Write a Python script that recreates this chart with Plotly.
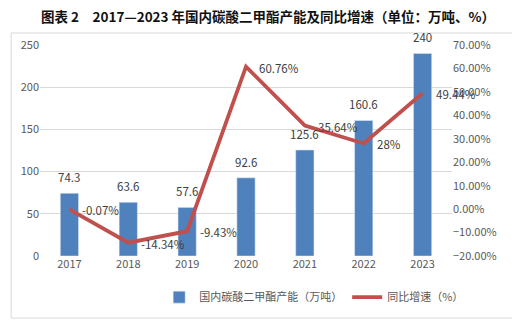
import plotly.graph_objects as go

# data
years = ['2017', '2018', '2019', '2020', '2021', '2022', '2023']
capacity = [74.3, 63.6, 57.6, 92.6, 125.6, 160.6, 240]           # 万吨
growth = [-0.07, -14.34, -9.43, 60.76, 35.64, 28, 49.44]          # %

font_family = '"Noto Sans CJK SC", "Microsoft YaHei", sans-serif'
tick_color = '#595959'
label_color = '#404040'

fig = go.Figure()

# capacity bars on the left axis
fig.add_trace(go.Bar(
    x=years,
    y=capacity,
    name='国内碳酸二甲酯产能（万吨）',
    marker=dict(color='#4F81BD'),
    width=0.31,
))

# growth line on the right axis
fig.add_trace(go.Scatter(
    x=years,
    y=growth,
    name='同比增速（%）',
    mode='lines',
    line=dict(color='#C0504D', width=3.8),
    yaxis='y2',
    cliponaxis=False,
))

# data labels (category axis: position = category index)
annotations = []
for i, v in enumerate(capacity):
    annotations.append(dict(
        x=i, y=v, xref='x', yref='y', text=f'{v:g}',
        showarrow=False, xanchor='center', yanchor='bottom', yshift=6,
        font=dict(size=11.5, color=label_color),
    ))
for i, v in enumerate(growth):
    annotations.append(dict(
        x=i, y=v, xref='x', yref='y2', text=f'{v:g}%',
        showarrow=False, xanchor='left', yanchor='middle', xshift=11, yshift=-1,
        font=dict(size=11.5, color=label_color),
    ))

# the page adds an 8px body margin, so the figure is 8px smaller
fig.update_layout(
    width=512,
    height=316,
    margin=dict(l=32, r=68, t=37, b=68),
    paper_bgcolor='white',
    plot_bgcolor='white',
    font=dict(family=font_family, size=11, color=tick_color),
    title=dict(
        text='<b>图表 2　2017—2023 年国内碳酸二甲酯产能及同比增速（单位：万吨、%）</b>',
        x=0.508, xanchor='center', y=0.971, yanchor='middle',
        xref='container', yref='container',
        font=dict(size=13.5, color='#111111', family=font_family),
    ),
    bargap=0.69,
    showlegend=True,
    legend=dict(
        orientation='h',
        x=0.598, xanchor='center', xref='container',
        y=0.085, yanchor='middle', yref='container',
        font=dict(size=11, color=tick_color),
        itemwidth=30,
        tracegroupgap=0,
    ),
    annotations=annotations,
    xaxis=dict(
        type='category',
        range=[-0.5, len(years) - 0.5],
        showgrid=False,
        showline=False,
        ticks='',
        tickfont=dict(size=11, color=tick_color),
    ),
    yaxis=dict(
        range=[0, 250],
        dtick=50,
        showgrid=True,
        gridcolor='#D9D9D9',
        gridwidth=1,
        zeroline=False,
        showline=False,
        tickfont=dict(size=11, color=tick_color),
    ),
    yaxis2=dict(
        range=[-20, 70],
        dtick=10,
        overlaying='y',
        side='right',
        showgrid=False,
        zeroline=False,
        showline=False,
        tickformat='.2f',
        ticksuffix='%',
        tickfont=dict(size=11, color=tick_color),
    ),
    shapes=[dict(
        type='rect', xref='paper', yref='paper',
        x0=-0.07, x1=1.148, y0=-0.294, y1=1.057,
        line=dict(color='#D9D9D9', width=1),
        fillcolor='rgba(0,0,0,0)',
        layer='below',
    )],
)

fig.write_html('out.html')
